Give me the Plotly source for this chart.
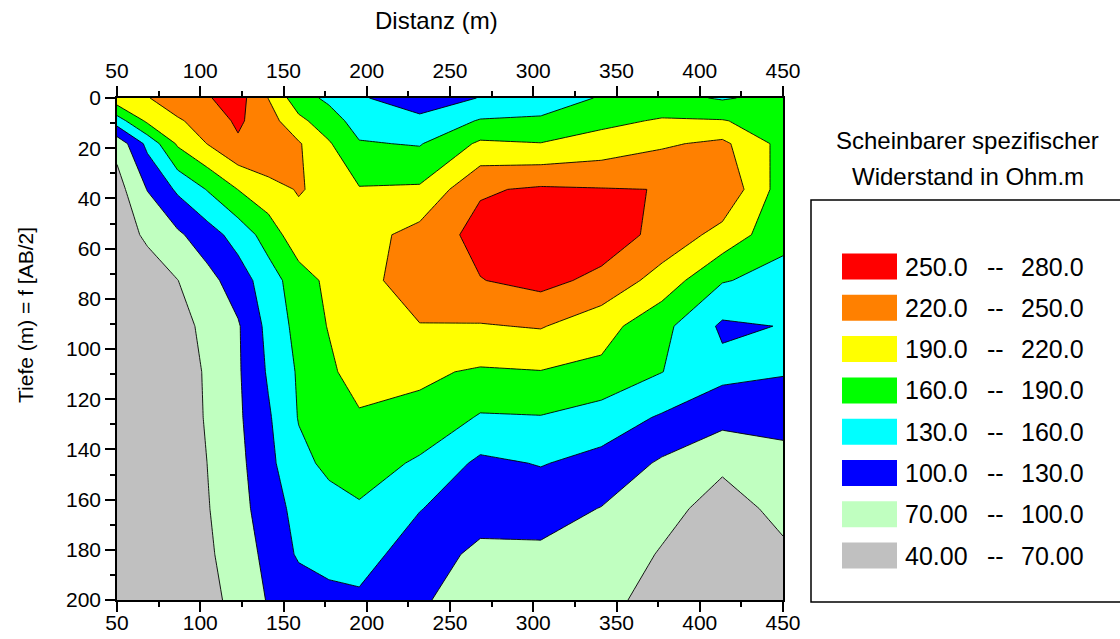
import plotly.graph_objects as go

# ---------------- data ----------------
DIST = [50, 68.2, 86.4, 104.5, 122.7, 140.9, 159.1, 177.3, 195.5, 231.8,
        268.2, 304.5, 340.9, 377.3, 413.6, 450]
DEPTH = [0, 9.1, 18.2, 36.4, 54.5, 72.7, 90.9, 109.1, 127.3, 145.5, 163.6, 181.8, 200]

RHO_D000 = [210, 218, 240, 248, 262, 219.5, 172, 154, 133, 115, 131, 140, 163, 170, 157, 170]
RHO_D009 = [145, 195.8, 215.8, 234.5, 254.6, 233, 197.5, 173.5, 147.6, 136.5, 162.5, 165.5, 182.5, 193, 191.8, 175]
RHO_D018 = [80, 137.6, 194, 221, 246, 246.5, 223, 193, 162.3, 158, 195, 191, 202, 216, 226.5, 180]
RHO_D036 = [58, 101, 135, 162, 190.5, 210, 222, 212.5, 192, 194, 246.7, 254, 251.5, 249.5, 245, 175]
RHO_D055 = [55, 75, 95, 117, 142, 173, 209.5, 205, 207.6, 230.6, 260, 275, 268, 240, 209.8, 168.5]
RHO_D073 = [48, 55, 69.5, 90.5, 114.8, 146, 176, 196.8, 211.5, 232.8, 249, 259.3, 241.8, 207.7, 162, 150]
RHO_D091 = [46, 50, 58.4, 78.6, 97, 138.6, 169.8, 191.8, 203, 219, 218, 222, 202, 168.7, 125, 131]
RHO_D109 = [45, 47, 52, 74.5, 96.4, 133.6, 163.6, 183.8, 205, 194.7, 186.6, 189, 183, 160.5, 138.3, 131]
RHO_D127 = [44, 46, 51.5, 73.3, 95, 126.3, 161.5, 175, 186, 183, 157, 158.5, 145.9, 126.7, 110, 121]
RHO_D145 = [44, 46, 47.8, 70.5, 91.6, 122.2, 152.4, 166, 176, 155, 123.8, 131.6, 121, 95.7, 74, 79]
RHO_D164 = [44, 46, 47.6, 68.5, 89.5, 115, 140, 150, 156, 131, 115, 112, 99, 77.6, 60.7, 76]
RHO_D182 = [44, 45, 46, 65.3, 85.5, 107.5, 134, 145, 140, 117, 92, 94.6, 85, 68, 55, 66]
RHO_D200 = [44, 44, 46, 59.7, 80.8, 102, 112, 118, 126, 103.8, 85, 85, 78, 59.8, 50, 55]

RHO = [RHO_D000, RHO_D009, RHO_D018, RHO_D036, RHO_D055, RHO_D073, RHO_D091,
       RHO_D109, RHO_D127, RHO_D145, RHO_D164, RHO_D182, RHO_D200]

LEVELS = [40, 70, 100, 130, 160, 190, 220, 250, 280]
BAND_COLORS = ["#C0C0C0", "#C0FFC0", "#0000FF", "#00FFFF",
               "#00FF00", "#FFFF00", "#FF8000", "#FF0000"]

X_TITLE = "Distanz (m)"
Y_TITLE = "Tiefe (m) = f [AB/2]"
LEGEND_TITLE = ["Scheinbarer spezifischer", "Widerstand in Ohm.m"]

# ---------------- layout helpers ----------------
W, H = 1120, 639
ML, MR, MT, MB = 117, 337, 98, 39
PW, PH = W - ML - MR, H - MT - MB
FONT = "Arial, Liberation Sans, sans-serif"


def pxx(x):
    return (x - ML) / PW


def pxy(y):
    return (H - MB - y) / PH


def fmt(v):
    return f"{v:.1f}" if v >= 100 else f"{v:.2f}"


def note(text, x, y, size, xanchor="center", **kw):
    return dict(text=text, x=pxx(x), y=pxy(y), xref="paper", yref="paper",
                xanchor=xanchor, yanchor="middle", showarrow=False,
                font=dict(size=size, color="black", family=FONT), **kw)


nb = len(BAND_COLORS)
cscale = []
for i, c in enumerate(BAND_COLORS):
    cscale.append([i / nb, c])
    cscale.append([(i + 1) / nb, c])

fig = go.Figure()
fig.add_trace(go.Contour(
    x=DIST, y=DEPTH, z=RHO,
    zmin=LEVELS[0], zmax=LEVELS[-1], autocontour=False,
    contours=dict(start=LEVELS[0], end=LEVELS[-1], size=LEVELS[1] - LEVELS[0],
                  coloring="fill", showlines=True),
    line=dict(color="black", width=0.9, smoothing=0),
    colorscale=cscale, showscale=False, hoverinfo="skip",
))
# invisible helper trace so the top axis is drawn
fig.add_trace(go.Scatter(x=[DIST[0], DIST[-1]], y=[DEPTH[0], DEPTH[0]], xaxis="x2", yaxis="y",
                         mode="markers", marker=dict(opacity=0), showlegend=False, hoverinfo="skip"))

TICK_FONT = dict(size=21, color="black", family=FONT)

xcommon = dict(range=[DIST[0], DIST[-1]], tick0=50, dtick=50, ticks="outside", ticklen=10,
               tickwidth=1.5, tickcolor="black", showline=True, linecolor="black", linewidth=1.5,
               showgrid=False, zeroline=False, tickfont=TICK_FONT,
               minor=dict(ticks="outside", tick0=50, dtick=25, ticklen=5, tickwidth=1.5,
                          tickcolor="black", showgrid=False))

shapes = []
annotations = []

# titles
annotations.append(note(X_TITLE, 436, 21, 24))
annotations.append(note(Y_TITLE, 25, 315, 21, textangle=-90))

# legend box
shapes.append(dict(type="rect", xref="paper", yref="paper", x0=pxx(811), x1=pxx(1135),
                   y0=pxy(602), y1=pxy(200), line=dict(color="black", width=1.5)))
for i, line in enumerate(LEGEND_TITLE):
    annotations.append(note(line, 968, 140 + 36 * i, 24))

for k in range(nb):
    band = nb - 1 - k
    yc = 266.5 + k * 41.3
    shapes.append(dict(type="rect", xref="paper", yref="paper", x0=pxx(842), x1=pxx(897),
                       y0=pxy(yc + 13), y1=pxy(yc - 13), fillcolor=BAND_COLORS[band],
                       line=dict(width=0)))
    lo, hi = LEVELS[band], LEVELS[band + 1]
    annotations.append(note(fmt(lo), 903, yc, 25, xanchor="left"))
    annotations.append(note("--", 995, yc, 25))
    annotations.append(note(fmt(hi), 1019, yc, 25, xanchor="left"))

fig.update_layout(
    width=W, height=H,
    margin=dict(l=ML, r=MR, t=MT, b=MB, autoexpand=False),
    paper_bgcolor="white", plot_bgcolor="white",
    showlegend=False,
    xaxis=dict(**xcommon, side="bottom", anchor="y", ticklabelstandoff=-7),
    xaxis2=dict(**xcommon, side="top", overlaying="x", anchor="y"),
    yaxis=dict(range=[DEPTH[-1], DEPTH[0]], tick0=0, dtick=20, ticks="outside", ticklen=10,
               tickwidth=1.5, tickcolor="black", showline=True, linecolor="black", linewidth=1.5,
               mirror=True, showgrid=False, zeroline=False, tickfont=TICK_FONT,
               minor=dict(ticks="outside", tick0=0, dtick=10, ticklen=5, tickwidth=1.5,
                          tickcolor="black", showgrid=False)),
    shapes=shapes,
    annotations=annotations,
)

fig.write_html(
    "out.html",
    config={"displayModeBar": False},
    post_script="document.body.style.margin='0px';document.body.style.overflow='hidden';"
                "document.documentElement.style.overflow='hidden';",
)
